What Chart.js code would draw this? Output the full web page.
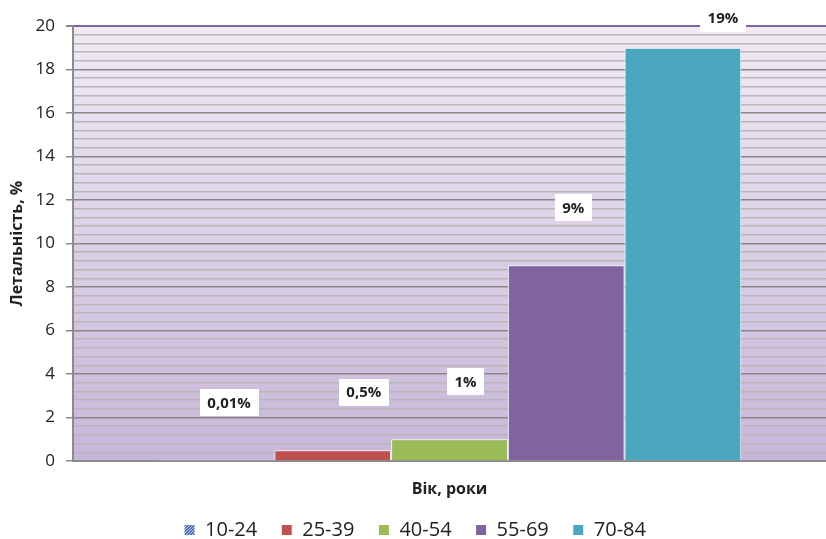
<!DOCTYPE html>
<html>
<head>
<meta charset="utf-8">
<script src="https://cdn.jsdelivr.net/npm/chart.js@4"></script>
<style>
  html, body { margin: 0; padding: 0; background: #fff; }
  #wrap { width: 826px; height: 539px; }
</style>
</head>
<body>
<div id="wrap"><canvas id="mortalityChart"></canvas></div>
<script>
// Летальність за віковими групами
const ageGroups = ['10-24', '25-39', '40-54', '55-69', '70-84'];
const mortality = [0.01, 0.5, 1, 9, 19];
const valueLabels = ['0,01%', '0,5%', '1%', '9%', '19%'];
const groupColors = ['#4f6fb0', '#c0504d', '#9bbb59', '#7f64a0', '#4ba7bf'];

// horizontal nudge of each value box relative to its bar
const labelShift = [13, 31, 16, 7, 40];

const FONT = '"Open Sans", "Noto Sans", sans-serif';

// speckled fill for the youngest group
function speckle(base) {
    const c = document.createElement('canvas');
    c.width = 3; c.height = 3;
    const p = c.getContext('2d');
    p.fillStyle = base;
    p.fillRect(0, 0, 3, 3);
    p.fillStyle = '#b8c8e6';
    p.fillRect(0, 0, 1, 1);
    p.fillRect(2, 1, 1, 1);
    p.fillRect(1, 2, 1, 1);
    return p.createPattern(c, 'repeat');
}

const datasets = ageGroups.map((g, i) => ({
    label: g,
    data: [mortality[i]],
    backgroundColor: i === 0 ? speckle(groupColors[0]) : groupColors[i],
    borderColor: '#ffffff',
    borderWidth: 1,
    borderSkipped: 'bottom'
}));

// lavender backdrop behind the plot
const plotBackground = {
    id: 'plotBackground',
    beforeDraw(chart) {
        const {ctx, chartArea: a} = chart;
        const g = ctx.createLinearGradient(0, a.top, 0, a.bottom);
        g.addColorStop(0, '#f0eaf4');
        g.addColorStop(1, '#c7b6d9');
        ctx.save();
        ctx.fillStyle = g;
        ctx.fillRect(a.left, a.top, a.right - a.left, a.bottom - a.top);
        ctx.restore();
    }
};

// white boxes with the percentage above each bar
const valueBoxes = {
    id: 'valueBoxes',
    afterDatasetsDraw(chart) {
        const ctx = chart.ctx;
        ctx.save();
        ctx.font = 'bold 15px ' + FONT;
        ctx.textAlign = 'center';
        ctx.textBaseline = 'middle';
        chart.data.datasets.forEach((ds, i) => {
            const bar = chart.getDatasetMeta(i).data[0];
            const x = bar.x + labelShift[i];
            const y = Math.max(bar.y - 58, 18);
            const w = ctx.measureText(valueLabels[i]).width + 15;
            const h = 27;
            ctx.fillStyle = '#ffffff';
            ctx.fillRect(Math.round(x - w / 2), Math.round(y - h / 2), Math.round(w), h);
            ctx.fillStyle = '#222222';
            ctx.fillText(valueLabels[i], x, y + 1);
        });
        ctx.restore();
    }
};

const isMajor = v => Math.abs(v / 2 - Math.round(v / 2)) < 1e-6;

new Chart(document.getElementById('mortalityChart'), {
    type: 'bar',
    data: {
        labels: [''],
        datasets: datasets
    },
    options: {
        responsive: true,
        maintainAspectRatio: false,
        animation: false,
        categoryPercentage: 0.775,
        barPercentage: 1,
        layout: { padding: { top: 26, left: 0, right: -4, bottom: -11 } },
        plugins: {
            tooltip: { enabled: false },
            legend: {
                position: 'bottom',
                labels: {
                    color: '#222',
                    font: { family: FONT, size: 20 },
                    boxWidth: 11,
                    boxHeight: 11,
                    padding: 24
                }
            }
        },
        scales: {
            x: {
                grid: { display: false },
                border: { color: '#8c8c8c', width: 2 },
                ticks: { display: false },
                title: {
                    display: true,
                    text: 'Вік, роки',
                    color: '#222',
                    font: { family: FONT, size: 16, weight: 'bold' },
                    padding: { top: 0, bottom: -3 }
                },
                afterFit(scale) { scale.height = 35; }
            },
            y: {
                min: 0,
                max: 20,
                ticks: {
                    stepSize: 0.4,
                    autoSkip: false,
                    color: '#222',
                    font: { family: FONT, size: 17 },
                    padding: 11,
                    callback: v => isMajor(v) ? Math.round(v) : ''
                },
                grid: {
                    color: c => c.tick.value >= 20 ? '#8064a2' : (isMajor(c.tick.value) ? '#888888' : '#b7b7b7'),
                    lineWidth: c => c.tick.value >= 20 ? 2 : 1.5,
                    tickLength: 7,
                    tickColor: c => isMajor(c.tick.value) ? '#888888' : 'rgba(0,0,0,0)'
                },
                border: { color: '#8c8c8c', width: 2 },
                title: {
                    display: true,
                    text: 'Летальність, %',
                    color: '#222',
                    font: { family: FONT, size: 16, weight: 'bold' },
                    padding: { top: 8, bottom: 0 }
                },
                afterFit(scale) { scale.width = 73; }
            }
        }
    },
    plugins: [plotBackground, valueBoxes]
});
</script>
</body>
</html>
